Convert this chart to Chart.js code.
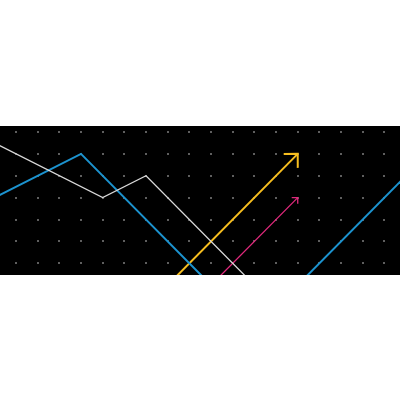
<!DOCTYPE html>
<html>
<head>
<meta charset="utf-8">
<script src="https://cdn.jsdelivr.net/npm/chart.js@4"></script>
<style>
html,body{margin:0;padding:0;background:#fff;width:400px;height:400px;overflow:hidden;}
#wrap{position:absolute;left:0;top:126px;width:400px;height:149px;background:#000;}
</style>
</head>
<body>
<div id="wrap"><canvas id="c"></canvas></div>
<script>
// Data in grid units (columns = dot columns, rows = dot rows, 0 at bottom row)
const whiteX = [-2, 4, 6, 11];
const whiteY = [6, 3, 4, -1];
const blueX = [-1, 3, 9];
const blueY = [3, 5, -1];
const blue2X = [13, 19];
const blue2Y = [-1, 5];
const yellowX = [7, 13];
const yellowY = [-1, 5];
const pinkX = [9, 13];
const pinkY = [-1, 3];
const gridCols = [0,1,2,3,4,5,6,7,8,9,10,11,12,13,14,15,16,17];
const gridRows = [0,1,2,3,4,5,6];

const pts = (xs, ys) => xs.map((x, i) => ({x: x, y: ys[i]}));

const dotPlugin = {
  id: 'dots',
  beforeDatasetsDraw(chart) {
    const ctx = chart.ctx, xs = chart.scales.x, ys = chart.scales.y;
    ctx.save();
    ctx.fillStyle = '#a8a8a8';
    gridCols.forEach(c => gridRows.forEach(r => {
      const px = xs.getPixelForValue(c), py = ys.getPixelForValue(r);
      ctx.fillRect(Math.round(px) - 0.75, Math.round(py) - 0.75, 1.5, 1.5);
    }));
    ctx.restore();
  }
};

const arrowPlugin = {
  id: 'arrows',
  afterDatasetsDraw(chart) {
    const ctx = chart.ctx;
    chart.data.datasets.forEach((ds, i) => {
      if (!ds.arrowSize) return;
      const pts = chart.getDatasetMeta(i).data;
      const a = pts[pts.length - 2], b = pts[pts.length - 1];
      const ang = Math.atan2(b.y - a.y, b.x - a.x);
      const L = ds.arrowSize;
      ctx.save();
      ctx.strokeStyle = ds.borderColor;
      ctx.lineWidth = ds.borderWidth;
      ctx.lineCap = 'butt';
      ctx.lineJoin = 'miter';
      ctx.beginPath();
      ctx.moveTo(b.x + L * Math.cos(ang + Math.PI - Math.PI / 4), b.y + L * Math.sin(ang + Math.PI - Math.PI / 4));
      ctx.lineTo(b.x, b.y);
      ctx.lineTo(b.x + L * Math.cos(ang + Math.PI + Math.PI / 4), b.y + L * Math.sin(ang + Math.PI + Math.PI / 4));
      ctx.stroke();
      ctx.restore();
    });
  }
};

new Chart(document.getElementById('c'), {
  type: 'line',
  data: {
    datasets: [
      {data: pts(whiteX, whiteY), borderColor: '#d9d9d9', borderWidth: 1.3},
      {data: pts(blueX, blueY), borderColor: '#1c93cf', borderWidth: 2},
      {data: pts(blue2X, blue2Y), borderColor: '#1c93cf', borderWidth: 2},
      {data: pts(pinkX, pinkY), borderColor: '#e0297c', borderWidth: 1.3, arrowSize: 6},
      {data: pts(yellowX, yellowY), borderColor: '#f7be1f', borderWidth: 2, arrowSize: 14}
    ]
  },
  options: {
    responsive: true,
    maintainAspectRatio: false,
    animation: false,
    events: [],
    layout: {padding: 0},
    elements: {point: {radius: 0}, line: {tension: 0, borderCapStyle: 'butt'}},
    plugins: {legend: {display: false}, tooltip: {enabled: false}},
    scales: {
      x: {type: 'linear', display: false, min: -0.738, max: 17.72},
      y: {type: 'linear', display: false, min: -0.535, max: 6.274}
    }
  },
  plugins: [dotPlugin, arrowPlugin]
});
</script>
</body>
</html>
